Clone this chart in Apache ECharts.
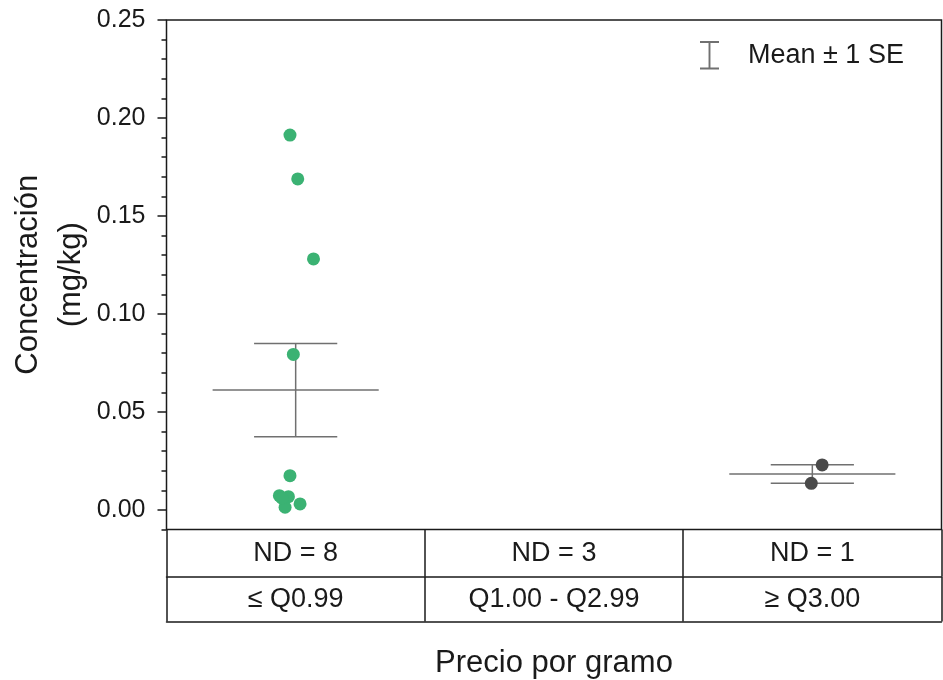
<!DOCTYPE html>
<html>
<head>
<meta charset="utf-8">
<script src="https://cdn.jsdelivr.net/npm/echarts@6/dist/echarts.min.js"></script>
<style>
  html, body { margin: 0; padding: 0; background: #ffffff; }
  #chart { width: 943px; height: 680px; }
</style>
</head>
<body>
<div id="chart"></div>
<script>
// Price groups shown in the table under the plot
const ndCounts = ['ND = 8', 'ND = 3', 'ND = 1'];
const priceGroups = ['≤ Q0.99', 'Q1.00 - Q2.99', '≥ Q3.00'];

// Detected concentrations (mg/kg) with horizontal jitter (category units from group centre)
const lowValues  = [0.1913, 0.1689, 0.1281, 0.0794, 0.0175, 0.0073, 0.0068, 0.0014, 0.0031, 0.0060];
const lowJitter  = [-0.022, 0.008, 0.069, -0.009, -0.022, -0.063, -0.028, -0.041, 0.017, -0.053];
const highValues = [0.0230, 0.0136];
const highJitter = [0.038, -0.004];

// Group mean and standard error (null where nothing was detected)
const groupMeans = [0.0612, null, 0.0184];
const groupSE    = [0.0238, null, 0.0047];

// y-axis tick labels
const yTicks = [0, 0.05, 0.10, 0.15, 0.20, 0.25];

const FONT = '"Liberation Sans", Arial, Helvetica, sans-serif';
const INK = '#1a1a1a';
const BAR_COLOR = '#707070';
const MEAN_HALF = 0.3215;   // half width of the mean line, category units
const CAP_HALF = 0.161;     // half width of the SE caps

const chart = echarts.init(document.getElementById('chart'), null, { renderer: 'canvas' });

const groupCenter = i => i + 0.5;
const lowPoints = lowValues.map((v, i) => [groupCenter(0) + lowJitter[i], v]);
const highPoints = highValues.map((v, i) => [groupCenter(2) + highJitter[i], v]);
const errorData = [];
groupMeans.forEach((m, i) => {
  if (m !== null) errorData.push([groupCenter(i), m, groupSE[i]]);
});

function renderErrorBar(params, api) {
  const x = api.value(0), m = api.value(1), s = api.value(2);
  const style = { stroke: BAR_COLOR, lineWidth: 1.5, fill: null };
  const seg = (a, b) => ({ type: 'line', shape: { x1: a[0], y1: a[1], x2: b[0], y2: b[1] }, style });
  const top = api.coord([x, m + s]);
  const bot = api.coord([x, m - s]);
  return {
    type: 'group',
    children: [
      seg(api.coord([x - MEAN_HALF, m]), api.coord([x + MEAN_HALF, m])),
      seg(top, bot),
      seg(api.coord([x - CAP_HALF, m + s]), api.coord([x + CAP_HALF, m + s])),
      seg(api.coord([x - CAP_HALF, m - s]), api.coord([x + CAP_HALF, m - s]))
    ]
  };
}

const tableAxis = (gridIndex, labels) => ({
  type: 'category',
  gridIndex: gridIndex,
  data: labels,
  boundaryGap: true,
  position: 'bottom',
  axisLine: { show: true, lineStyle: { color: INK, width: 1.5 } },
  axisTick: { show: false },
  splitLine: { show: true, showMinLine: true, showMaxLine: true, lineStyle: { color: INK, width: 1.5 } },
  axisLabel: {
    show: true, color: INK, fontFamily: FONT, fontSize: 27,
    verticalAlign: 'middle', margin: gridIndex === 1 ? -23 : -22, interval: 0
  }
});

const gridBase = { left: 166.5, right: 1.5, outerBoundsMode: 'none', containLabel: false };

const option = {
  backgroundColor: '#ffffff',
  animation: false,
  textStyle: { fontFamily: FONT },
  legend: {
    left: 700, top: 41, padding: 0,
    itemWidth: 19, itemHeight: 29,
    data: [{ name: 'Mean ± 1 SE', icon: 'path://M0,0H20V2H0Z M9,0H11V30H9Z M0,28H20V30H0Z' }],
    textStyle: { color: INK, fontFamily: FONT, fontSize: 27, padding: [0, 0, 0, 24] },
    selectedMode: false
  },
  grid: [
    Object.assign({ top: 20, height: 509.6, show: true, borderColor: INK, borderWidth: 1.5, backgroundColor: 'transparent' }, gridBase),
    Object.assign({ top: 529.6, height: 47 }, gridBase),
    Object.assign({ top: 576.6, height: 45 }, gridBase)
  ],
  xAxis: [
    { type: 'value', gridIndex: 0, min: 0, max: 3, show: false },
    tableAxis(1, ndCounts),
    Object.assign(tableAxis(2, priceGroups), {
      name: 'Precio por gramo',
      nameLocation: 'middle',
      nameGap: 26,
      nameMoveOverlap: false,
      nameTextStyle: { color: INK, fontFamily: FONT, fontSize: 31 }
    })
  ],
  yAxis: [
    {
      type: 'value', gridIndex: 0, min: -0.01, max: 0.25, position: 'left',
      axisLine: { show: false },
      axisTick: { show: true, customValues: yTicks, length: 9, lineStyle: { color: INK, width: 1.5 } },
      axisLabel: {
        show: true, customValues: yTicks, margin: 21, color: INK, fontFamily: FONT, fontSize: 25,
        formatter: v => Number(v).toFixed(2)
      },
      splitLine: { show: false },
      name: 'Concentración\n(mg/kg)',
      nameLocation: 'middle',
      nameRotate: 90,
      nameGap: 74,
      nameMoveOverlap: false,
      nameTextStyle: { color: INK, fontFamily: FONT, fontSize: 31, lineHeight: 43, align: 'center' }
    },
    {
      type: 'value', gridIndex: 0, min: -0.01, max: 0.25, interval: 0.01, position: 'left', offset: 0,
      axisLine: { show: false },
      axisTick: { show: true, length: 5, lineStyle: { color: INK, width: 1.5 } },
      axisLabel: { show: false },
      splitLine: { show: false }
    },
    { type: 'value', gridIndex: 1, show: false },
    { type: 'value', gridIndex: 2, show: false }
  ],
  series: [
    {
      name: 'Mean ± 1 SE',
      type: 'custom',
      xAxisIndex: 0, yAxisIndex: 0,
      itemStyle: { color: BAR_COLOR },
      renderItem: renderErrorBar,
      data: errorData,
      z: 2
    },
    {
      name: priceGroups[0],
      type: 'scatter',
      xAxisIndex: 0, yAxisIndex: 0,
      symbol: 'circle', symbolSize: 13,
      itemStyle: { color: '#3bb273', opacity: 1 },
      data: lowPoints,
      z: 3
    },
    {
      name: priceGroups[2],
      type: 'scatter',
      xAxisIndex: 0, yAxisIndex: 0,
      symbol: 'circle', symbolSize: 13,
      itemStyle: { color: '#4a4a4a', opacity: 1 },
      data: highPoints,
      z: 3
    }
  ]
};

chart.setOption(option);
</script>
</body>
</html>
